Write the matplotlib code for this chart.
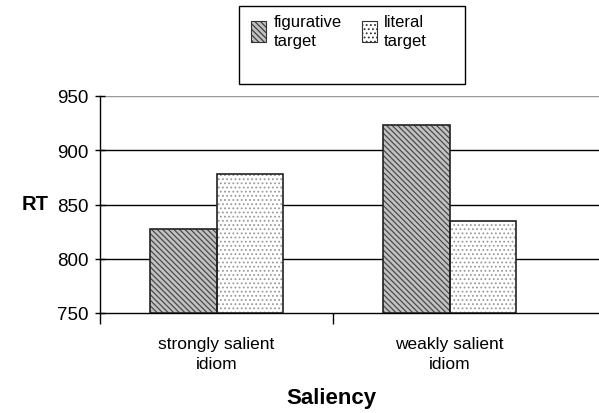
import numpy as np
import matplotlib
matplotlib.use('Agg')
import matplotlib.pyplot as plt
from matplotlib.patches import Patch, Rectangle

plt.rcParams['font.family'] = ['Liberation Sans', 'DejaVu Sans']
plt.rcParams['hatch.linewidth'] = 0.8

categories = ['strongly salient\nidiom', 'weakly salient\nidiom']
series = ['figurative\ntarget', 'literal\ntarget']
figurative = [827, 923]
literal = [878, 835]
yticks = [750, 800, 850, 900, 950]

fig = plt.figure(figsize=(5.99, 4.14), dpi=100)
ax = fig.add_axes([100/599, 100/414, 499/599, 217/414])

x = np.arange(len(categories))
w = 0.285
styles = [
    dict(face='#c0c0c0', hatch='\\\\\\\\\\\\', hcol='#404040'),
    dict(face='white', hatch='....', hcol='#9a9a9a'),
]
for i, vals in enumerate([figurative, literal]):
    pos = x - w/2 + i*w
    st = styles[i]
    # hatch layer
    plt.rcParams['hatch.color'] = st['hcol']
    ax.bar(pos, np.array(vals) - 750, w, bottom=750, color=st['face'],
           hatch=st['hatch'], edgecolor=st['hcol'], linewidth=0, zorder=3)
    # outline
    ax.bar(pos, np.array(vals) - 750, w, bottom=750, fill=False,
           edgecolor='#222222', linewidth=1.2, zorder=4)

ax.set_ylim(750, 950)
ax.set_xlim(-0.5, 1.64)
ax.set_yticks(yticks)
ax.set_yticklabels([str(t) for t in yticks], fontsize=13.5)
for t in yticks[1:-1]:
    ax.axhline(t, color='black', linewidth=1.0, zorder=1)
ax.axhline(950, color='#999999', linewidth=1.0, zorder=1)

ax.set_xticks([-0.5, 0.5])
ax.set_xticklabels([])
ax.tick_params(axis='x', length=8, width=1, direction='out')
ax.tick_params(axis='y', length=7, width=1, direction='inout', pad=5)
for i, c in enumerate(categories):
    ax.text(x[i], 729, c, ha='center', va='top', fontsize=12.5,
            transform=ax.transData, linespacing=1.4)

for s in ['top', 'right']:
    ax.spines[s].set_visible(False)
ax.spines['left'].set_linewidth(1.0)
ax.spines['bottom'].set_linewidth(1.0)

fig.text(35/599, 1 - 205/414, 'RT', fontsize=14.5, fontweight='bold',
         ha='center', va='center')
fig.text(331/599, 1 - 399/414, 'Saliency', fontsize=16, fontweight='bold',
         ha='center', va='center')

# legend box
fig.patches.append(Rectangle((239/599, 1 - 85/414), 226/599, 78/414,
                             transform=fig.transFigure, fill=False,
                             edgecolor='black', linewidth=1.0))
handles = [Patch(facecolor=styles[i]['face'], hatch=styles[i]['hatch'],
                 edgecolor='#333333', linewidth=0.8) for i in range(2)]
leg = fig.legend(handles, series, loc='upper left',
                 bbox_to_anchor=(251/599, 1 - 15/414), ncol=2, frameon=False,
                 fontsize=12, handlelength=0.9, handleheight=1.5,
                 handletextpad=0.45, columnspacing=1.2, borderpad=0,
                 borderaxespad=0)
for t in leg.get_texts():
    t.set_linespacing(1.35)

fig.savefig('out.png', dpi=100)
